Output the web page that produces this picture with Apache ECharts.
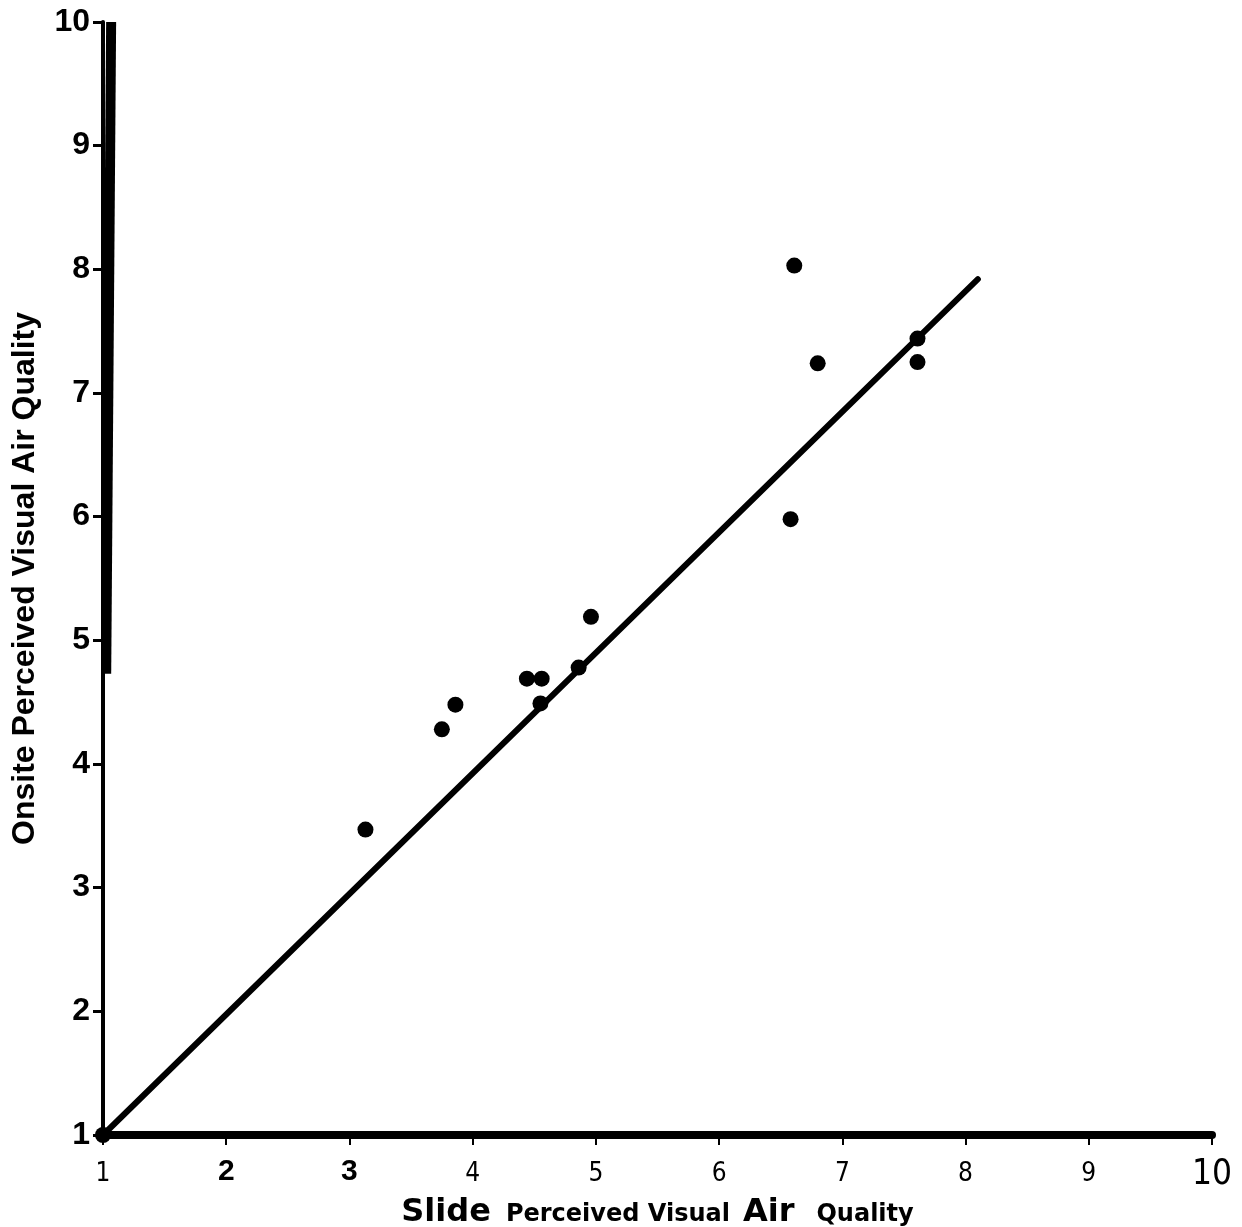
<!DOCTYPE html>
<html>
<head>
<meta charset="utf-8">
<script src="https://cdn.jsdelivr.net/npm/echarts@6/dist/echarts.min.js"></script>
<style>
  html, body { margin: 0; padding: 0; background: #fff; }
  #chart { width: 1242px; height: 1227px; }
</style>
</head>
<body>
<div id="chart"></div>
<script>
// slide rating (x) vs onsite rating (y)
var slideVals  = [1.00, 3.13, 3.75, 3.86, 4.44, 4.56, 4.55, 4.86, 4.96, 6.58, 6.61, 6.80, 7.61, 7.61]
var onsiteVals = [1.00, 3.47, 4.28, 4.48, 4.69, 4.69, 4.49, 4.78, 5.19, 5.98, 8.03, 7.24, 7.44, 7.25]
// fitted line end points
var fitX = [1.0, 8.1]
var fitY = [1.0, 7.92]
// thick part of the left axis (as printed, a bit slanted)
var axisBarX = [1.026, 1.066]
var axisBarY = [4.73, 10]
var boldTicks = [2, 3]

var pts = slideVals.map(function (v, i) { return [v, onsiteVals[i]] })
var fitLine = fitX.map(function (v, i) { return [v, fitY[i]] })
var barLine = axisBarX.map(function (v, i) { return [v, axisBarY[i]] })

var chart = echarts.init(document.getElementById('chart'))
chart.setOption({
  backgroundColor: '#fff',
  animation: false,
  grid: { left: 103, right: 30, top: 22, bottom: 92, outerBoundsMode: 'none', containLabel: false },
  xAxis: {
    type: 'value', min: 1, max: 10, interval: 1,
    splitLine: { show: false },
    axisLine: { lineStyle: { color: '#000', width: 8 } },
    axisTick: { length: 10, lineStyle: { color: '#000', width: 2 } },
    axisLabel: {
      margin: 22,
      formatter: function (v) {
        if (boldTicks.indexOf(v) >= 0) return '{b|' + v + '}'
        if (v === 10) return '{big|' + v + '}'
        return '{n|' + v + '}'
      },
      rich: {
        b: { fontFamily: 'Liberation Sans, Arial', fontWeight: 'bold', fontSize: 30, color: '#000' },
        n: { fontFamily: 'Liberation Sans Narrow, DejaVu Sans Condensed', fontSize: 26, color: '#000', padding: [4, 0, 0, 0] },
        big: { fontFamily: 'Liberation Sans Narrow, DejaVu Sans Condensed', fontSize: 35, color: '#000', padding: [0, 0, 4, 0] }
      }
    },
    name: '{s|Slide}{p1|Perceived Visual}{s2|Air}{p2|Quality}',
    nameLocation: 'middle',
    nameGap: 35,
    nameTextStyle: {
      rich: {
        s: { fontFamily: 'DejaVu Sans', fontWeight: 'bold', fontSize: 32, color: '#000' },
        s2: { fontFamily: 'DejaVu Sans', fontWeight: 'bold', fontSize: 32, color: '#000', padding: [0, 0, 0, 13] },
        p1: { fontFamily: 'DejaVu Sans', fontWeight: 'bold', fontSize: 24, color: '#000', padding: [4, 0, 0, 15] },
        p2: { fontFamily: 'DejaVu Sans', fontWeight: 'bold', fontSize: 24, color: '#000', padding: [4, 0, 0, 22] }
      }
    }
  },
  yAxis: {
    type: 'value', min: 1, max: 10, interval: 1,
    splitLine: { show: false },
    axisLine: { lineStyle: { color: '#000', width: 4 } },
    axisTick: { length: 10, lineStyle: { color: '#000', width: 3 } },
    axisLabel: {
      margin: 13,
      fontFamily: 'Liberation Sans, Arial', fontWeight: 'bold', fontSize: 32, color: '#000'
    },
    name: 'Onsite Perceived Visual Air Quality',
    nameLocation: 'middle',
    nameGap: 62,
    nameTextStyle: { fontFamily: 'Liberation Sans, Arial', fontWeight: 'bold', fontSize: 32, color: '#000' }
  },
  series: [
    {
      name: 'axisBar', type: 'line', data: barLine, silent: true,
      symbol: 'none', lineStyle: { color: '#000', width: 10, cap: 'butt' }
    },
    {
      name: 'fit', type: 'line', data: fitLine, silent: true,
      symbol: 'none', lineStyle: { color: '#000', width: 6, cap: 'round' }
    },
    {
      name: 'points', type: 'scatter', data: pts,
      symbol: 'circle', symbolSize: 16,
      itemStyle: { color: '#000', opacity: 1 }
    }
  ]
})
</script>
</body>
</html>
